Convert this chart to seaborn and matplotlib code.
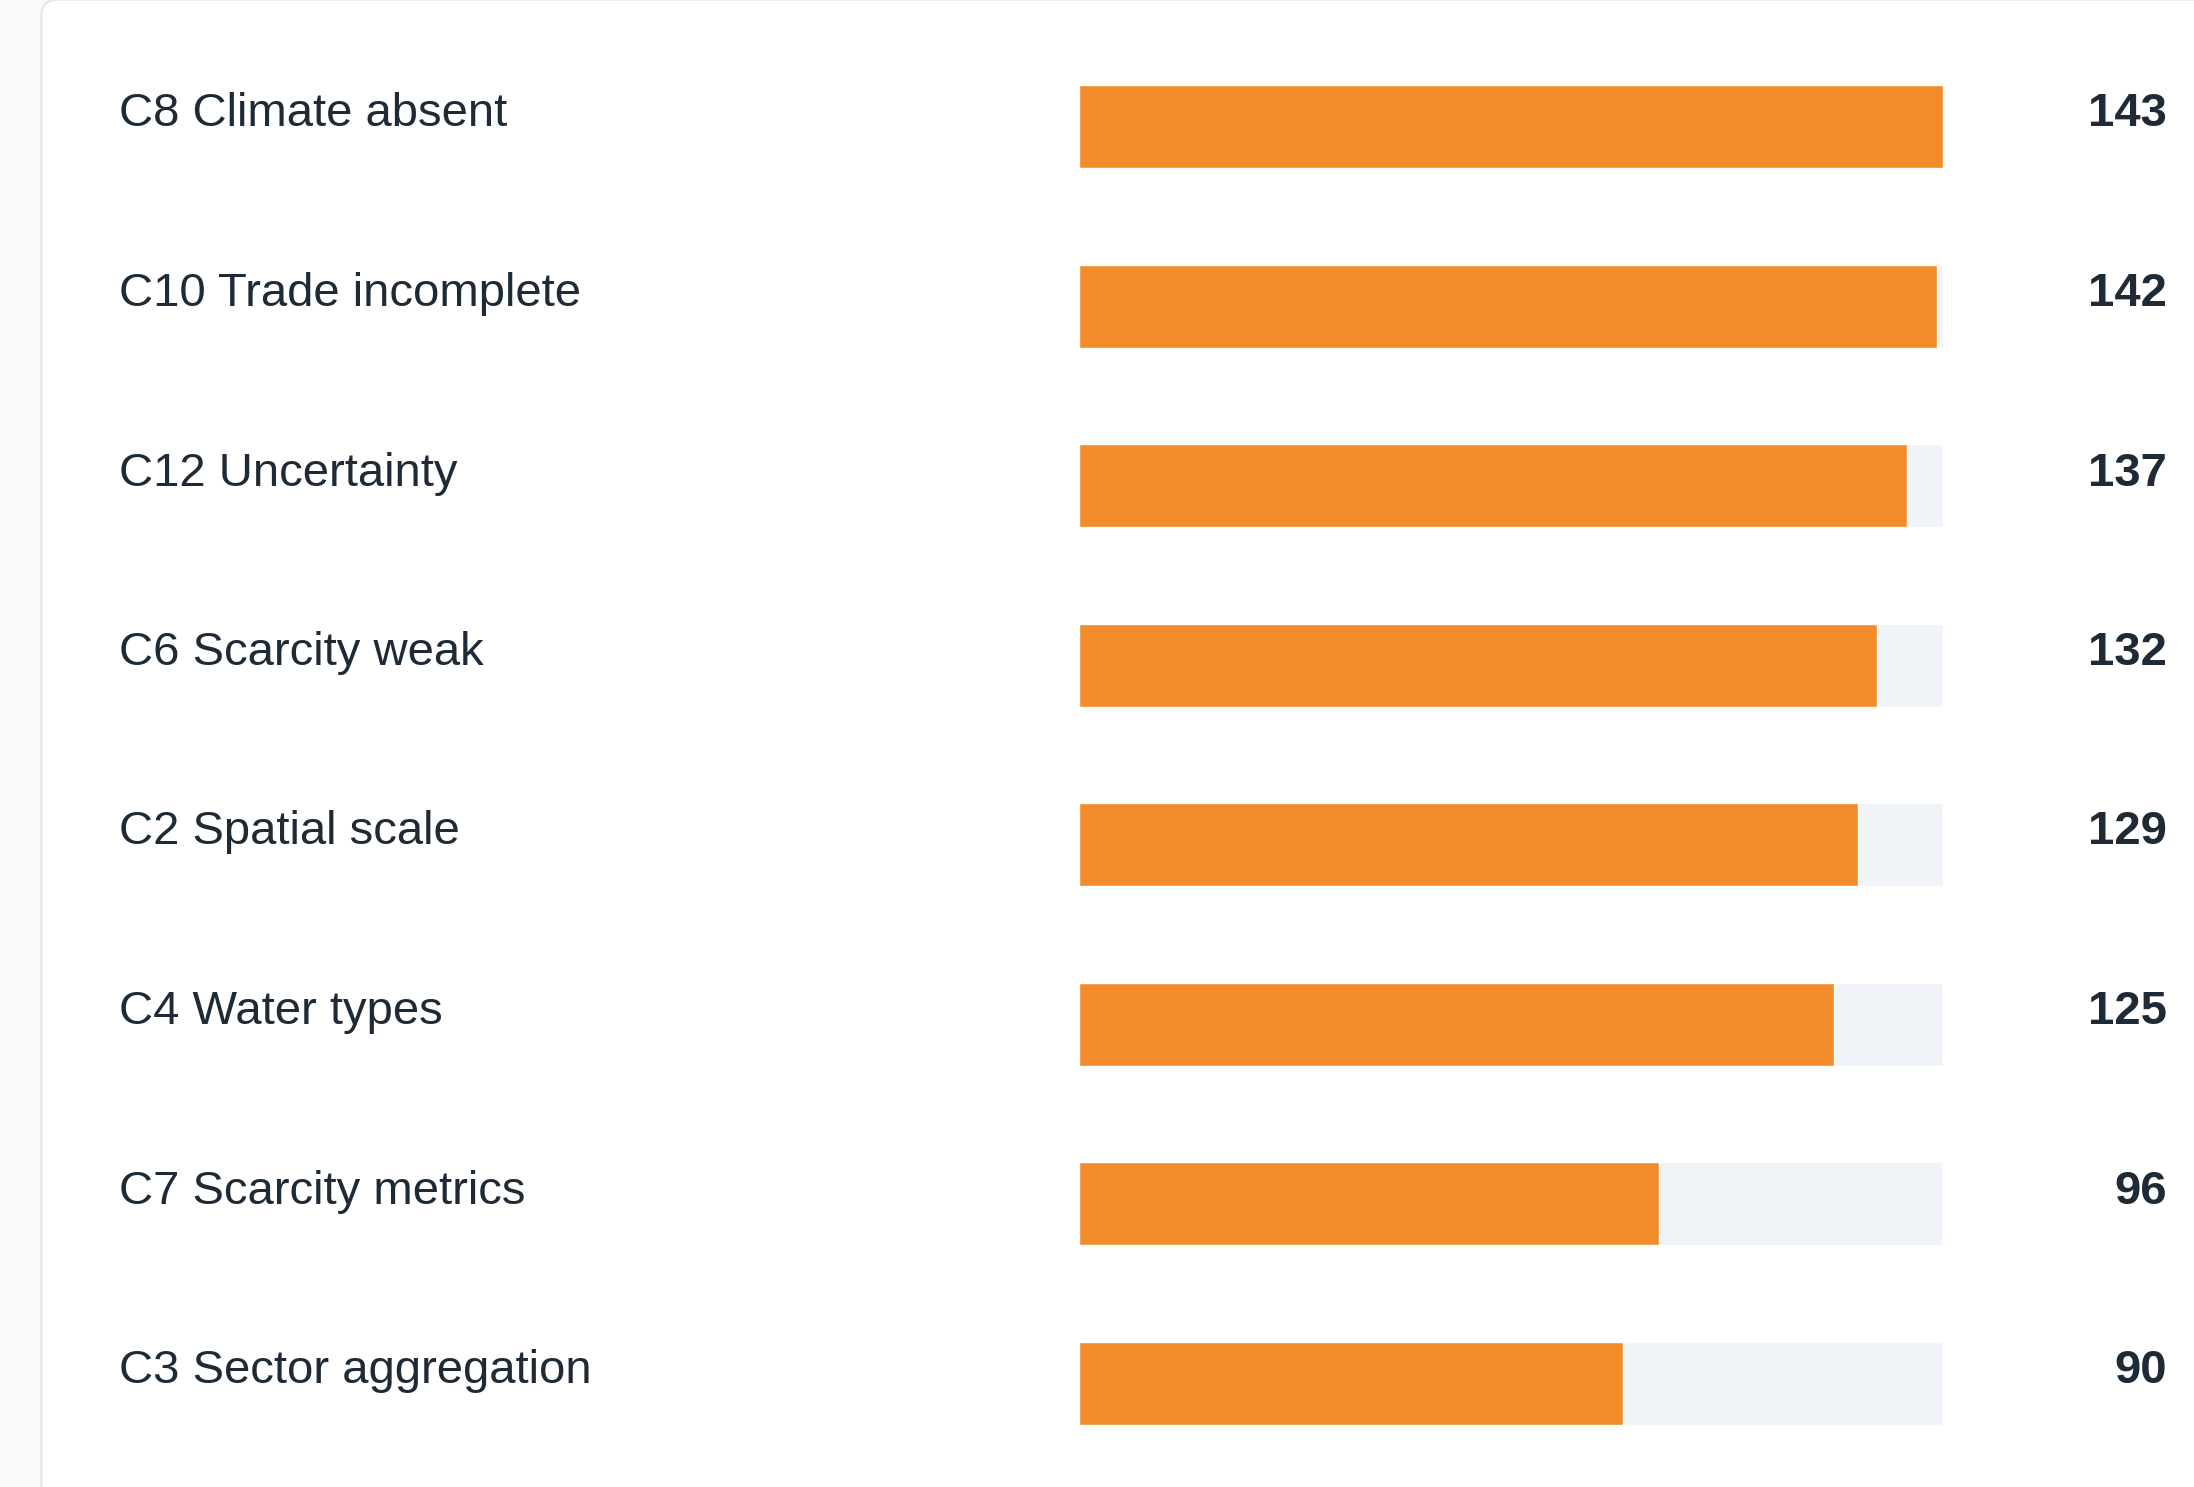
import numpy as np
import pandas as pd
import matplotlib
matplotlib.use("Agg")
import matplotlib.pyplot as plt
import matplotlib.transforms as mtransforms
from matplotlib.patches import FancyBboxPatch
import seaborn as sns

# datos
etiquetas = ["C8 Climate absent", "C10 Trade incomplete", "C12 Uncertainty",
             "C6 Scarcity weak", "C2 Spatial scale", "C4 Water types",
             "C7 Scarcity metrics", "C3 Sector aggregation"]
valores = [143, 142, 137, 132, 129, 125, 96, 90]

NARANJA = "#f28c2a"
PISTA = "#f0f3f8"
TEXTO = "#1f2a37"
FONDO = "#f8f9fb"
BORDE = "#e3e6ea"

W, H = 2194, 1487

sns.set_style("white")
plt.rcParams["font.family"] = ["Liberation Sans", "DejaVu Sans"]

df = pd.DataFrame({"etiqueta": etiquetas, "valor": valores})
df["pista"] = max(valores)

fig = plt.figure(figsize=(W / 100, H / 100), dpi=100)
fig.patch.set_facecolor(FONDO)

# tarjeta blanca con esquina redondeada (coordenadas en píxeles, y hacia abajo)
px = mtransforms.Affine2D().scale(1 / W, -1 / H).translate(0, 1) + fig.transFigure
tarjeta = FancyBboxPatch((41.5, -0.4), W, H + 60,
                         boxstyle="round,pad=0,rounding_size=16",
                         facecolor="white", edgecolor=BORDE, linewidth=1.6,
                         transform=px, zorder=0)
fig.add_artist(tarjeta)

top, bottom = 85, 1424.5
ax = fig.add_axes([1079 / W, 1 - bottom / H, 864 / W, (bottom - top) / H])
ax.patch.set_alpha(0)

ancho = 83 / 179.5
sns.barplot(data=df, y="etiqueta", x="pista", color=PISTA, width=ancho,
            saturation=1, errorbar=None, ax=ax)
sns.barplot(data=df, y="etiqueta", x="valor", color=NARANJA, width=ancho,
            saturation=1, errorbar=None, ax=ax)

n = len(etiquetas)
ax.set_xlim(0, max(valores))
ax.set_ylim(n - 1 + ancho / 2, -ancho / 2)
ax.axis("off")

trans = mtransforms.blended_transform_factory(fig.transFigure, ax.transData)
for i, (lab, v) in enumerate(zip(etiquetas, valores)):
    ax.text(119 / W, i, lab, transform=trans, ha="left", va="baseline",
            fontsize=34, color=TEXTO, clip_on=False)
    ax.text(2167 / W, i, str(v), transform=trans, ha="right", va="baseline",
            fontsize=34, fontweight="bold", color=TEXTO, clip_on=False)

fig.savefig("out.png", dpi=100, facecolor=fig.get_facecolor())
